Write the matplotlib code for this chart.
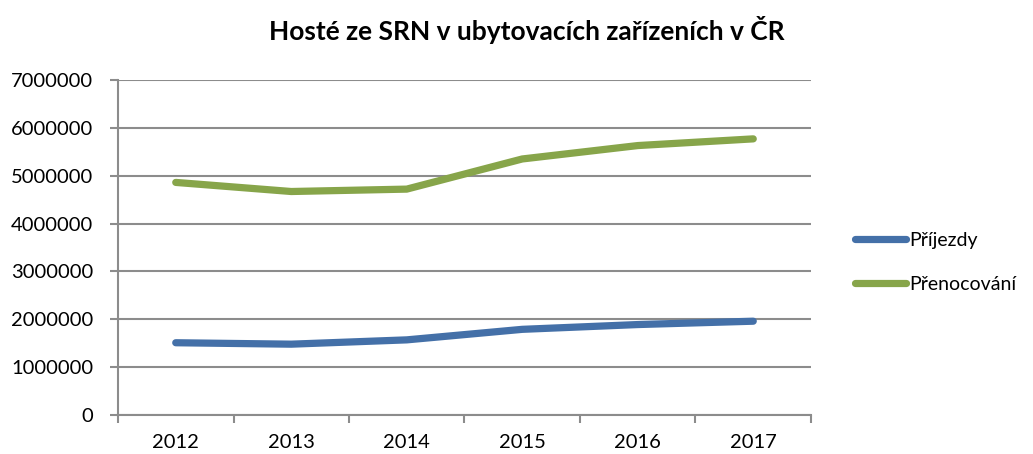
import numpy as np
import matplotlib.pyplot as plt
from matplotlib.lines import Line2D

plt.rcParams['font.family'] = ['Lato', 'DejaVu Sans']

years = ['2012', '2013', '2014', '2015', '2016', '2017']
prijezdy = [1510000, 1480000, 1570000, 1790000, 1890000, 1960000]
prenocovani = [4860000, 4670000, 4720000, 5350000, 5630000, 5770000]

blue = '#4470a8'
green = '#87a54a'
grey = '#8c8c8c'

fig = plt.figure(figsize=(10.33, 4.54), dpi=100)
ax = fig.add_axes([118/1033, 1-415/454, (811-118)/1033, (415-80)/454])

x = np.arange(len(years))
ax.plot(x, prijezdy, color=blue, lw=5.2, solid_capstyle='round', solid_joinstyle='round', zorder=3)
ax.plot(x, prenocovani, color=green, lw=5.2, solid_capstyle='round', solid_joinstyle='round', zorder=3)

ax.set_xlim(-0.5, len(years) - 0.5)
ax.set_ylim(0, 7000000)
ax.set_yticks(np.arange(0, 7000001, 1000000))
ax.set_yticklabels([str(v) for v in range(0, 7000001, 1000000)])
ax.yaxis.grid(True, color=grey, lw=1.5)
ax.set_axisbelow(True)

# category boundaries get the tick marks, labels sit in the middle
ax.set_xticks(np.arange(-0.5, len(years), 1.0))
ax.set_xticklabels([])
ax.set_xticks(x, minor=True)
ax.set_xticklabels(years, minor=True)
ax.tick_params(axis='x', which='minor', length=0, pad=14, labelsize=14.5)
ax.tick_params(axis='x', which='major', length=6, color=grey, width=1.5)
ax.tick_params(axis='y', length=6, color=grey, width=1.5, pad=12, labelsize=14.5)

for s in ['top', 'right']:
    ax.spines[s].set_visible(False)
for s in ['left', 'bottom']:
    ax.spines[s].set_color(grey)
    ax.spines[s].set_linewidth(1.5)

fig.text(0.51, 0.934, 'Hosté ze SRN v ubytovacích zařízeních v ČR',
         ha='center', va='center', fontsize=19, fontweight='bold')

handles = [Line2D([], [], color=blue, lw=5.2, solid_capstyle='round'),
           Line2D([], [], color=green, lw=5.2, solid_capstyle='round')]
fig.legend(handles, ['Příjezdy', 'Přenocování'], loc='center left',
           bbox_to_anchor=(0.828, 0.422), frameon=False, fontsize=14,
           borderpad=0, borderaxespad=0,
           handlelength=2.6, handletextpad=0.15, labelspacing=1.35)

fig.savefig('out.png', dpi=100)
